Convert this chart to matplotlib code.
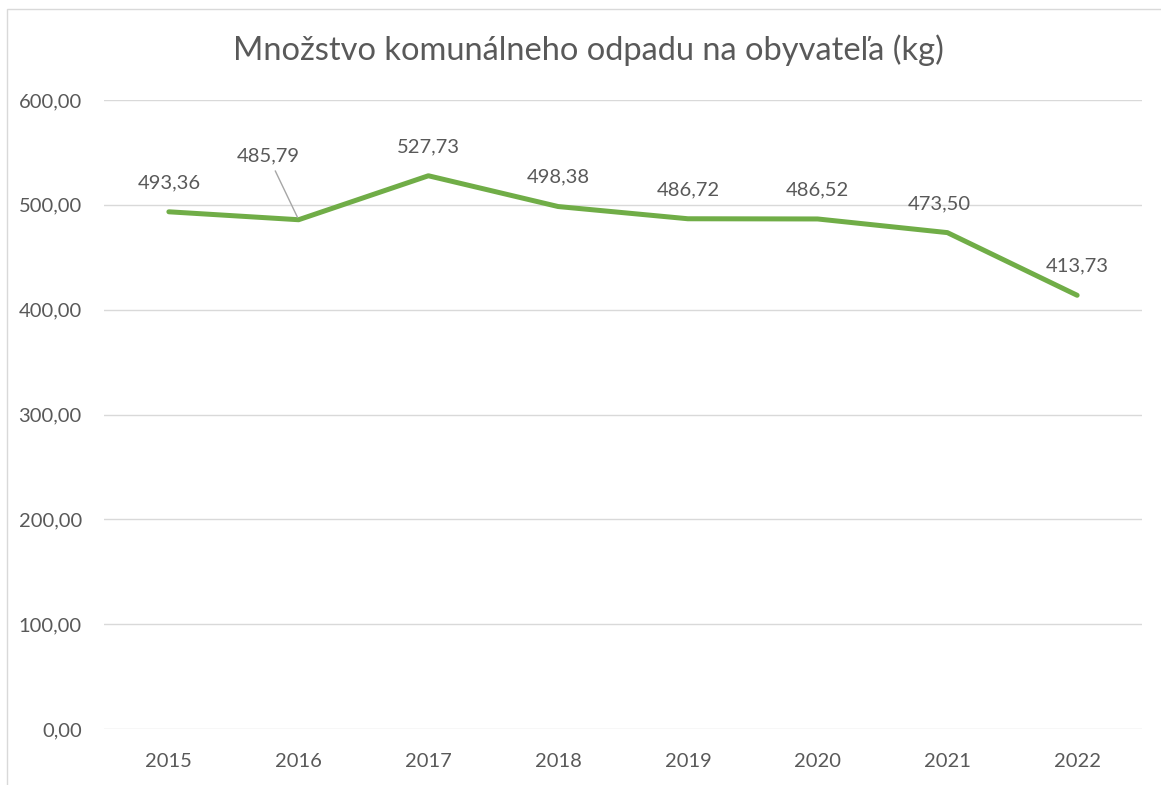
import matplotlib
matplotlib.use("Agg")
import matplotlib.pyplot as plt
from matplotlib.patches import Rectangle

years = ["2015", "2016", "2017", "2018", "2019", "2020", "2021", "2022"]
values = [493.36, 485.79, 527.73, 498.38, 486.72, 486.52, 473.50, 413.73]
labels = ["493,36", "485,79", "527,73", "498,38", "486,72", "486,52", "473,50", "413,73"]
yticks = [0, 100, 200, 300, 400, 500, 600]
ytick_labels = ["0,00", "100,00", "200,00", "300,00", "400,00", "500,00", "600,00"]

plt.rcParams['font.family'] = ['Lato', 'DejaVu Sans']
text_color = "#595959"

W, H = 1161, 785
fig = plt.figure(figsize=(W / 100, H / 100), dpi=100)

# frame
fig.patches.append(Rectangle((7 / W, -0.01), 1.2, 1 - 9 / H + 0.01, transform=fig.transFigure,
                             fill=False, edgecolor="#D9D9D9", linewidth=1.0))

left, right = 104 / W, 1142 / W
top, bottom = 1 - 100 / H, 1 - 729 / H
ax = fig.add_axes([left, bottom, right - left, top - bottom])

x = list(range(len(years)))
ax.plot(x, values, color="#70AD47", linewidth=3.6, solid_capstyle="round", solid_joinstyle="round", zorder=3)

ax.set_xlim(-0.5, len(years) - 0.5)
ax.set_ylim(0, 600)
ax.set_yticks(yticks)
ax.set_yticklabels(ytick_labels)
ax.set_xticks(x)
ax.set_xticklabels(years)
ax.grid(axis="y", color="#D9D9D9", linewidth=1.0)
ax.set_axisbelow(True)
for s in ax.spines.values():
    s.set_visible(False)
ax.tick_params(length=0, labelsize=14.5, colors=text_color)
ax.tick_params(axis="x", pad=17)
ax.tick_params(axis="y", pad=16)

for i, (v, lab) in enumerate(zip(values, labels)):
    if i == 1:
        ax.annotate(lab, xy=(i, v), xytext=(-22, 46), textcoords="offset points",
                    ha="center", va="center", fontsize=14.5, color=text_color,
                    arrowprops=dict(arrowstyle="-", color="#A6A6A6", lw=1.0,
                                    shrinkA=3, shrinkB=2))
    elif i == 6:
        ax.annotate(lab, xy=(i, v), xytext=(-6, 21), textcoords="offset points",
                    ha="center", va="center", fontsize=14.5, color=text_color)
    else:
        ax.annotate(lab, xy=(i, v), xytext=(0, 21), textcoords="offset points",
                    ha="center", va="center", fontsize=14.5, color=text_color)

fig.text(588 / W, 1 - 50 / H, "Množstvo komunálneho odpadu na obyvateľa (kg)",
         ha="center", va="center", fontsize=23.5, color=text_color)

fig.savefig("out.png", dpi=100)
